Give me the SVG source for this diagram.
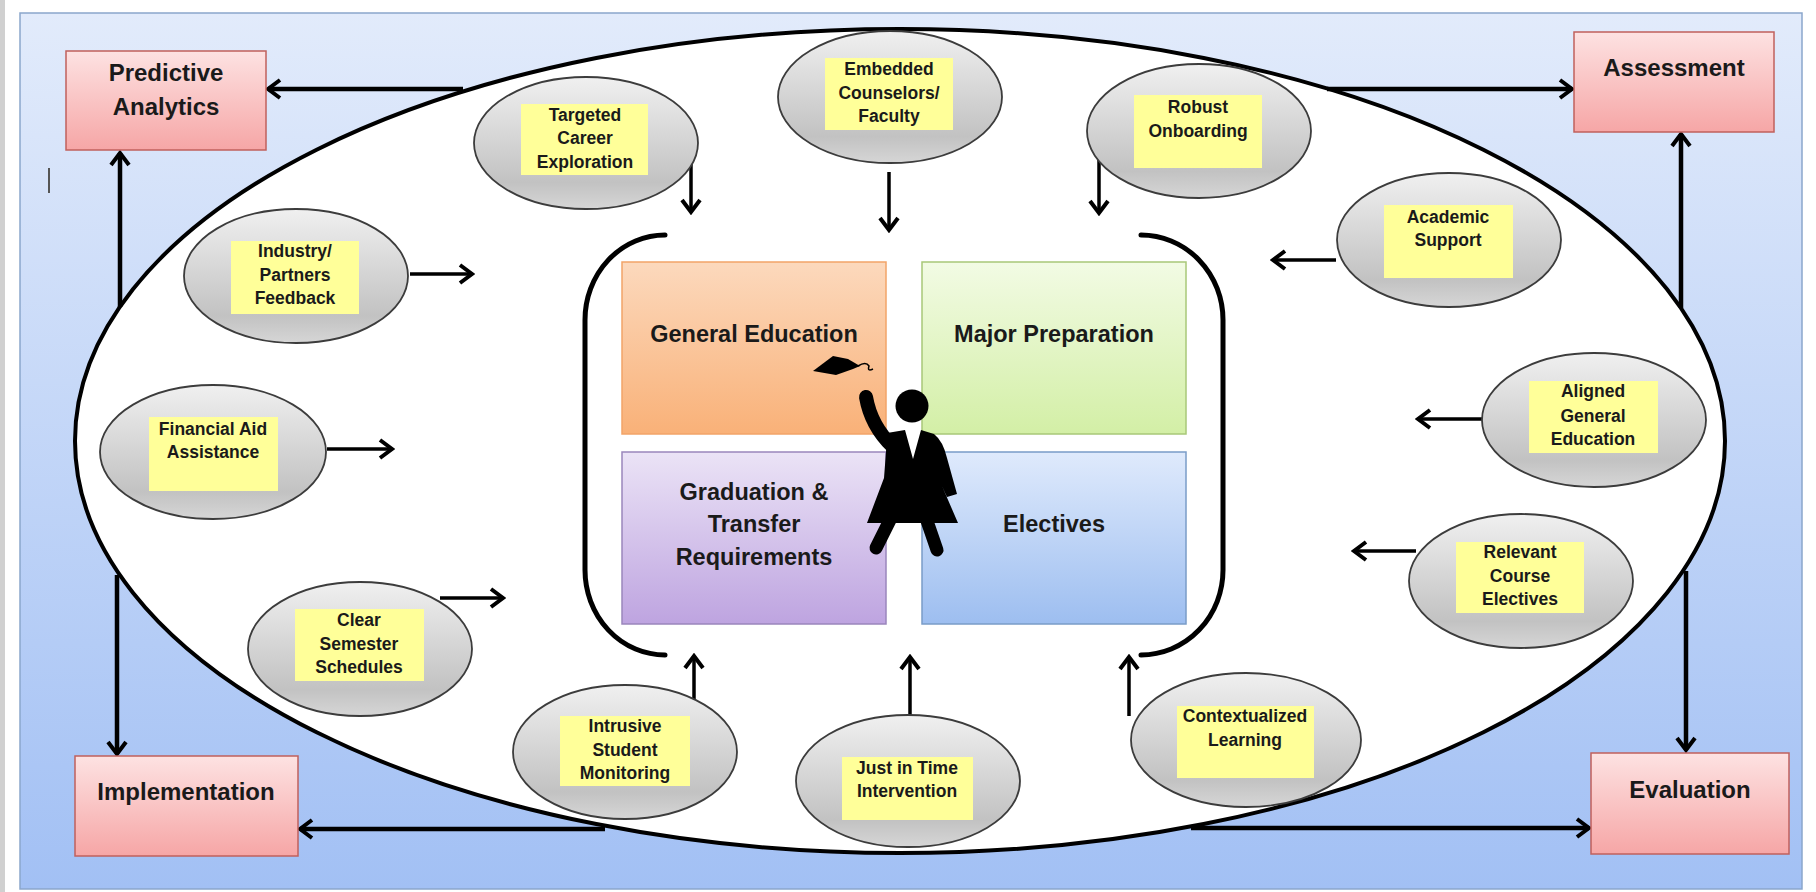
<svg xmlns="http://www.w3.org/2000/svg" width="1816" height="892" viewBox="0 0 1816 892">
<defs>
<linearGradient id="gFrame" x1="0" y1="0" x2="0" y2="1"><stop offset="0" stop-color="#e2ebfb"/><stop offset="1" stop-color="#a2c0f4"/></linearGradient>
<linearGradient id="gPink" x1="0" y1="0" x2="0" y2="1"><stop offset="0" stop-color="#fde2e2"/><stop offset="1" stop-color="#f6a6a6"/></linearGradient>
<linearGradient id="gGray" x1="0" y1="0" x2="0" y2="1"><stop offset="0" stop-color="#f0f0f0"/><stop offset="0.8" stop-color="#c2c2c2"/><stop offset="1" stop-color="#d6d6d6"/></linearGradient>
<linearGradient id="gOrange" x1="0" y1="0" x2="0" y2="1"><stop offset="0" stop-color="#fcd9bd"/><stop offset="1" stop-color="#f9b178"/></linearGradient>
<linearGradient id="gGreen" x1="0" y1="0" x2="0" y2="1"><stop offset="0" stop-color="#f2fbe4"/><stop offset="1" stop-color="#d3efa6"/></linearGradient>
<linearGradient id="gPurple" x1="0" y1="0" x2="0" y2="1"><stop offset="0" stop-color="#ebe3f6"/><stop offset="1" stop-color="#bea4e0"/></linearGradient>
<linearGradient id="gBlue" x1="0" y1="0" x2="0" y2="1"><stop offset="0" stop-color="#dfeafc"/><stop offset="1" stop-color="#9dbef0"/></linearGradient>
<marker id="arr" markerUnits="userSpaceOnUse" markerWidth="24" markerHeight="24" viewBox="0 0 24 24" refX="21" refY="12" orient="auto">
<path d="M9,3 L21,12 L9,21" fill="none" stroke="#000" stroke-width="4"/>
</marker>
<style>
.lbl{font-family:"Liberation Sans",Arial,sans-serif;font-weight:bold;fill:#1a1a1a;text-anchor:middle}
.big{font-size:24px}
.mid{font-size:23.5px}
.sm{font-size:17.5px}
.box{fill:url(#gPink);stroke:#c0605c;stroke-width:1.5}
.oval{fill:url(#gGray);stroke:#3c3c3c;stroke-width:1.8}
.note{fill:#ffff99}
.cn{fill:none;stroke:#000;stroke-width:4.5;marker-end:url(#arr)}
.cs{fill:none;stroke:#000;stroke-width:3.5;marker-end:url(#arr)}
</style>
</defs>
<rect x="0" y="0" width="1816" height="892" fill="#ffffff"/>
<rect x="0" y="0" width="5" height="892" fill="#d0d0d0"/>
<rect x="20" y="13" width="1782" height="876" fill="url(#gFrame)" stroke="#8aa6cc" stroke-width="1.5"/>
<line x1="49" y1="168" x2="49" y2="193" stroke="#555" stroke-width="2"/>
<ellipse id="ring" cx="900" cy="441" rx="825" ry="412" fill="#ffffff" stroke="#000" stroke-width="4"/>

<g id="connectors">
<path class="cn" d="M463,89 L268,89"/>
<path class="cn" d="M120,307 L120,153"/>
<path class="cn" d="M117,575 L117,754"/>
<path class="cn" d="M605,829 L300,829"/>
<path class="cn" d="M1327,89 L1572,89"/>
<path class="cn" d="M1681,308 L1681,134"/>
<path class="cn" d="M1686,571 L1686,750"/>
<path class="cn" d="M1191,828 L1589,828"/>
<path class="cs" d="M691,158 L691,212"/>
<path class="cs" d="M889,172 L889,230"/>
<path class="cs" d="M1099,157 L1099,213"/>
<path class="cs" d="M410,274 L472,274"/>
<path class="cs" d="M327,449 L392,449"/>
<path class="cs" d="M440,598 L503,598"/>
<path class="cs" d="M694,703 L694,656"/>
<path class="cs" d="M910,715 L910,657"/>
<path class="cs" d="M1129,716 L1129,657"/>
<path class="cs" d="M1336,260 L1273,260"/>
<path class="cs" d="M1482,419 L1418,419"/>
<path class="cs" d="M1416,551 L1354,551"/>
</g>

<g id="brackets" fill="none" stroke="#000" stroke-width="5" stroke-linecap="round">
<path d="M665,235 A80,85 0 0 0 585,320 L585,570 A80,85 0 0 0 665,655"/>
<path d="M1141,235 A82,85 0 0 1 1223,320 L1223,570 A82,85 0 0 1 1141,655"/>
</g>

<g id="predictive"><rect class="box" x="66" y="51" width="200" height="99"/><text class="lbl big" x="166" y="81">Predictive</text><text class="lbl big" x="166" y="115">Analytics</text></g>
<g id="assessment"><rect class="box" x="1574" y="32" width="200" height="100"/><text class="lbl big" x="1674" y="76">Assessment</text></g>
<g id="implementation"><rect class="box" x="75" y="756" width="223" height="100"/><text class="lbl big" x="186" y="800">Implementation</text></g>
<g id="evaluation"><rect class="box" x="1591" y="753" width="198" height="101"/><text class="lbl big" x="1690" y="798">Evaluation</text></g>

<g id="general-education"><rect x="622" y="262" width="264" height="172" fill="url(#gOrange)" stroke="#f2a468" stroke-width="1.5"/><text class="lbl mid" x="754" y="342">General Education</text></g>
<g id="major-preparation"><rect x="922" y="262" width="264" height="172" fill="url(#gGreen)" stroke="#a8c878" stroke-width="1.5"/><text class="lbl mid" x="1054" y="342">Major Preparation</text></g>
<g id="graduation"><rect x="622" y="452" width="264" height="172" fill="url(#gPurple)" stroke="#9a86bc" stroke-width="1.5"/><text class="lbl mid" x="754" y="500">Graduation &amp;</text><text class="lbl mid" x="754" y="532">Transfer</text><text class="lbl mid" x="754" y="565">Requirements</text></g>
<g id="electives"><rect x="922" y="452" width="264" height="172" fill="url(#gBlue)" stroke="#7a9cc8" stroke-width="1.5"/><text class="lbl mid" x="1054" y="532">Electives</text></g>

<g id="graduate" fill="#000">
<polygon points="813,371 833,356 848,359 860,366 853,369 836,375"/>
<path d="M858,366 Q866,361 869,366 Q867,372 873,369" fill="none" stroke="#000" stroke-width="1.5"/>
<path d="M866,397 Q871,426 893,447" fill="none" stroke="#000" stroke-width="14" stroke-linecap="round"/>
<circle cx="912" cy="406" r="16.5"/>
<path d="M887,433 L905,430 L913,459 L921,430 L934,434 Q943,441 947,458 L957,494 L947,497 L942,486 L958,523 L867,523 L884,478 L886,452 Z"/>
<path d="M891,518 L876,548 M926,518 L937,550" fill="none" stroke="#000" stroke-width="13" stroke-linecap="round"/>
</g>

<g id="targeted"><ellipse class="oval" cx="586" cy="143" rx="112" ry="66"/><rect class="note" x="521" y="104" width="127" height="71"/><text class="lbl sm" x="585" y="121">Targeted</text><text class="lbl sm" x="585" y="144">Career</text><text class="lbl sm" x="585" y="168">Exploration</text></g>
<g id="embedded"><ellipse class="oval" cx="890" cy="97" rx="112" ry="66"/><rect class="note" x="825" y="58" width="128" height="72"/><text class="lbl sm" x="889" y="75">Embedded</text><text class="lbl sm" x="889" y="99">Counselors/</text><text class="lbl sm" x="889" y="122">Faculty</text></g>
<g id="robust"><ellipse class="oval" cx="1199" cy="131" rx="112" ry="67"/><rect class="note" x="1134" y="95" width="128" height="73"/><text class="lbl sm" x="1198" y="113">Robust</text><text class="lbl sm" x="1198" y="137">Onboarding</text></g>
<g id="industry"><ellipse class="oval" cx="296" cy="276" rx="112" ry="67"/><rect class="note" x="231" y="241" width="128" height="73"/><text class="lbl sm" x="295" y="257">Industry/</text><text class="lbl sm" x="295" y="281">Partners</text><text class="lbl sm" x="295" y="304">Feedback</text></g>
<g id="academic"><ellipse class="oval" cx="1449" cy="240" rx="112" ry="67"/><rect class="note" x="1384" y="205" width="129" height="73"/><text class="lbl sm" x="1448" y="223">Academic</text><text class="lbl sm" x="1448" y="246">Support</text></g>
<g id="financial"><ellipse class="oval" cx="213" cy="452" rx="113" ry="67"/><rect class="note" x="149" y="417" width="129" height="74"/><text class="lbl sm" x="213" y="435">Financial Aid</text><text class="lbl sm" x="213" y="458">Assistance</text></g>
<g id="aligned"><ellipse class="oval" cx="1594" cy="420" rx="112" ry="67"/><rect class="note" x="1529" y="381" width="129" height="72"/><text class="lbl sm" x="1593" y="397">Aligned</text><text class="lbl sm" x="1593" y="422">General</text><text class="lbl sm" x="1593" y="445">Education</text></g>
<g id="clear"><ellipse class="oval" cx="360" cy="649" rx="112" ry="67"/><rect class="note" x="295" y="609" width="129" height="72"/><text class="lbl sm" x="359" y="626">Clear</text><text class="lbl sm" x="359" y="650">Semester</text><text class="lbl sm" x="359" y="673">Schedules</text></g>
<g id="relevant"><ellipse class="oval" cx="1521" cy="581" rx="112" ry="67"/><rect class="note" x="1456" y="542" width="128" height="71"/><text class="lbl sm" x="1520" y="558">Relevant</text><text class="lbl sm" x="1520" y="582">Course</text><text class="lbl sm" x="1520" y="605">Electives</text></g>
<g id="intrusive"><ellipse class="oval" cx="625" cy="752" rx="112" ry="67"/><rect class="note" x="560" y="716" width="130" height="70"/><text class="lbl sm" x="625" y="732">Intrusive</text><text class="lbl sm" x="625" y="756">Student</text><text class="lbl sm" x="625" y="779">Monitoring</text></g>
<g id="just-in-time"><ellipse class="oval" cx="908" cy="781" rx="112" ry="66"/><rect class="note" x="842" y="757" width="131" height="63"/><text class="lbl sm" x="907" y="774">Just in Time</text><text class="lbl sm" x="907" y="797">Intervention</text></g>
<g id="contextualized"><ellipse class="oval" cx="1246" cy="740" rx="115" ry="67"/><rect class="note" x="1177" y="706" width="137" height="72"/><text class="lbl sm" x="1245" y="722">Contextualized</text><text class="lbl sm" x="1245" y="746">Learning</text></g>
</svg>
